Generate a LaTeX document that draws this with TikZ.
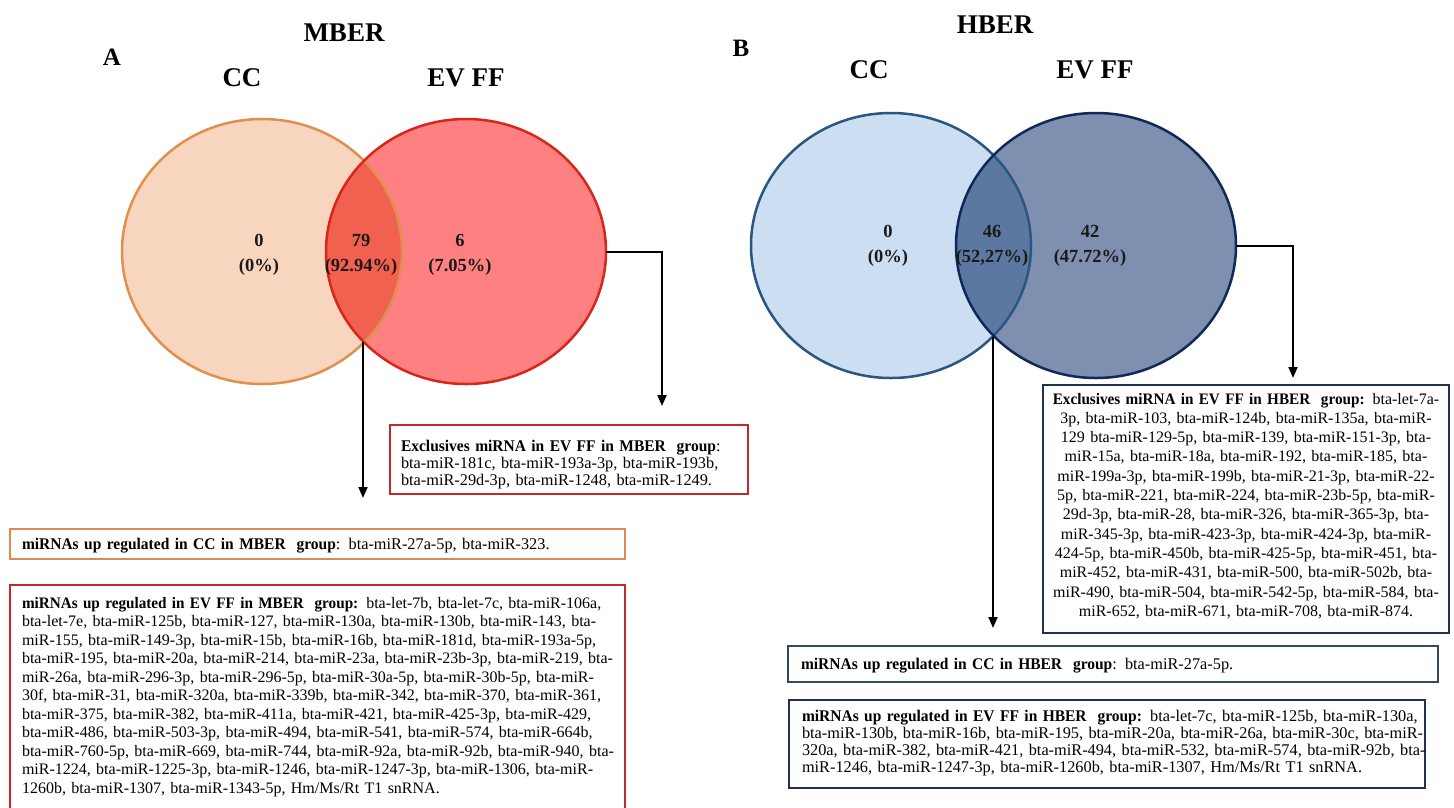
\documentclass[tikz,border=0pt]{standalone}
\usepackage{fontspec}
\setmainfont{Liberation Serif}
\newfontfamily\hdfont{Liberation Serif}[FakeStretch=0.95]
\usetikzlibrary{shapes.geometric,arrows.meta}
\definecolor{ccAfill}{HTML}{F8D5BE}
\definecolor{ccAline}{HTML}{E0904E}
\definecolor{evAfill}{HTML}{FF8080}
\definecolor{evAline}{HTML}{D9261C}
\definecolor{lensA}{HTML}{F2604F}
\definecolor{ccBfill}{HTML}{CCDFF2}
\definecolor{ccBline}{HTML}{2A5780}
\definecolor{evBfill}{HTML}{7F8FB0}
\definecolor{evBline}{HTML}{0F2A5A}
\definecolor{lensB}{HTML}{5D78A0}
\definecolor{redbox}{HTML}{C0282C}
\definecolor{orangebox}{HTML}{DC8A55}
\definecolor{navybox}{HTML}{1F3150}
\definecolor{slatebox}{HTML}{2F4A63}
\definecolor{numcol}{HTML}{1A1A1A}
\newcommand\JL[1]{\hbox to\hsize{#1}}
\newcommand\NL[1]{\hbox{#1}}
\newcommand\CL[1]{\hbox to\hsize{\hss#1\hss}}
\newcommand\HD[1]{{\hdfont\bfseries #1}}
\begin{document}
\begin{tikzpicture}[x=1pt,y=-1pt,
  every node/.style={inner sep=0pt, outer sep=0pt},
  title/.style={font=\fontsize{27}{30}\selectfont\bfseries},
  panel/.style={font=\fontsize{25}{28}\selectfont\bfseries},
  num/.style={font=\fontsize{18.5}{25}\selectfont\bfseries, text=numcol, align=center},
  vennset/.style={ellipse, minimum width=280pt, minimum height=265pt, line width=2.5pt},
  listbox/.style={draw, line width=2.8pt, fill=white, anchor=north west},
  txt/.style={anchor=base west, font=\fontsize{16.3}{18.5}\selectfont},
  conn/.style={draw=black, line width=2pt, -{Triangle[length=11pt,width=9pt]}}
]
\path[use as bounding box, clip] (0,0) rectangle (1454,807);
\fill[white] (0,0) rectangle (1454,807);

% ---------- Panel A ----------
\node[title] (mber) at (344,33) {MBER};
\node[panel] (pA) at (112,57) {A};
\node[title] (ccAt) at (242,78) {CC};
\node[title] (evAt) at (466,78) {EV FF};

\fill[ccAfill] (262,251.5) ellipse [x radius=140, y radius=132.5];
\fill[evAfill] (466,251.5) ellipse [x radius=140, y radius=132.5];
\begin{scope}
  \clip (262,251.5) ellipse [x radius=140, y radius=132.5];
  \fill[lensA] (466,251.5) ellipse [x radius=140, y radius=132.5];
\end{scope}
\node[vennset, draw=ccAline] (ccA) at (262,251.5) {};
\node[vennset, draw=evAline] (evA) at (466,251.5) {};

\node[num] (nA0) at (259,254.5) {0\\(0\%)};
\node[num] (nA1) at (361,254.5) {79\\(92.94\%)};
\node[num] (nA2) at (460,254.5) {6\\(7.05\%)};

\coordinate (lensAb) at (363,342);
\coordinate (tipA1) at (662,406);
\coordinate (tipA2) at (363,498);

\node[listbox, draw=redbox, minimum width=358pt, minimum height=69pt] (exA) at (390,425) {};
\node[txt, font=\fontsize{16.3}{17}\selectfont, text width=340pt] (exAt) at (401,451) {\vtop{%
\NL{\HD{Exclusives miRNA in EV FF in MBER\ \ group}: }%
\NL{bta-miR-181c, bta-miR-193a-3p, bta-miR-193b,}%
\NL{bta-miR-29d-3p, bta-miR-1248, bta-miR-1249.}}};

\node[listbox, draw=orangebox, minimum width=615pt, minimum height=30pt] (upccA) at (10,529) {};
\node[txt, text width=590pt] (upccAt) at (22,549) {\vtop{%
\NL{\HD{miRNAs up regulated in CC in MBER\ \ group}: bta-miR-27a-5p, bta-miR-323.}}};

\node[listbox, draw=redbox, minimum width=615pt, minimum height=235pt] (upevA) at (10,585) {};
\node[txt, font=\fontsize{16}{18.5}\selectfont, text width=591pt] (upevAt) at (22,608) {\vtop{%
\JL{\HD{miRNAs up regulated in EV FF in MBER\ \ group:} bta-let-7b, bta-let-7c, bta-miR-106a,}%
\JL{bta-let-7e, bta-miR-125b, bta-miR-127, bta-miR-130a, bta-miR-130b, bta-miR-143, bta-}%
\JL{miR-155, bta-miR-149-3p, bta-miR-15b, bta-miR-16b, bta-miR-181d, bta-miR-193a-5p,}%
\JL{bta-miR-195, bta-miR-20a, bta-miR-214, bta-miR-23a, bta-miR-23b-3p, bta-miR-219, bta-}%
\JL{miR-26a, bta-miR-296-3p, bta-miR-296-5p, bta-miR-30a-5p, bta-miR-30b-5p, bta-miR-}%
\JL{30f, bta-miR-31, bta-miR-320a, bta-miR-339b, bta-miR-342, bta-miR-370, bta-miR-361,}%
\JL{bta-miR-375, bta-miR-382, bta-miR-411a, bta-miR-421, bta-miR-425-3p, bta-miR-429,}%
\JL{bta-miR-486, bta-miR-503-3p, bta-miR-494, bta-miR-541, bta-miR-574, bta-miR-664b,}%
\JL{bta-miR-760-5p, bta-miR-669, bta-miR-744, bta-miR-92a, bta-miR-92b, bta-miR-940, bta-}%
\JL{miR-1224, bta-miR-1225-3p, bta-miR-1246, bta-miR-1247-3p, bta-miR-1306, bta-miR-}%
\NL{1260b, bta-miR-1307, bta-miR-1343-5p, Hm/Ms/Rt T1 snRNA.}}};

\draw[conn] (evA.east) -| (tipA1);
\draw[conn] (lensAb) -- (tipA2);

% ---------- Panel B ----------
\node[title] (hber) at (995,25) {HBER};
\node[panel] (pB) at (741,48) {B};
\node[title] (ccBt) at (869,70) {CC};
\node[title] (evBt) at (1095,70) {EV FF};

\fill[ccBfill] (891,245.5) ellipse [x radius=140, y radius=132.5];
\fill[evBfill] (1096,245.5) ellipse [x radius=140, y radius=132.5];
\begin{scope}
  \clip (891,245.5) ellipse [x radius=140, y radius=132.5];
  \fill[lensB] (1096,245.5) ellipse [x radius=140, y radius=132.5];
\end{scope}
\node[vennset, draw=ccBline] (ccB) at (891,245.5) {};
\node[vennset, draw=evBline] (evB) at (1096,245.5) {};

\node[num] (nB0) at (888,246) {0\\(0\%)};
\node[num] (nB1) at (992,246) {46\\(52,27\%)};
\node[num] (nB2) at (1090,246) {42\\(47.72\%)};

\coordinate (lensBb) at (993,337);
\coordinate (tipB1) at (1293,378);
\coordinate (tipB2) at (993,628);

\node[listbox, draw=navybox, minimum width=406pt, minimum height=248pt] (exB) at (1043,385) {};
\node[txt, font=\fontsize{16}{19.3}\selectfont, text width=396pt] (exBt) at (1048,404) {\vtop{%
\CL{\HD{Exclusives miRNA in EV FF in HBER\ \ group:} bta-let-7a-}%
\CL{3p, bta-miR-103, bta-miR-124b, bta-miR-135a, bta-miR-}%
\CL{129 bta-miR-129-5p, bta-miR-139, bta-miR-151-3p, bta-}%
\CL{miR-15a, bta-miR-18a, bta-miR-192, bta-miR-185, bta-}%
\CL{miR-199a-3p, bta-miR-199b, bta-miR-21-3p, bta-miR-22-}%
\CL{5p, bta-miR-221, bta-miR-224, bta-miR-23b-5p, bta-miR-}%
\CL{29d-3p, bta-miR-28, bta-miR-326, bta-miR-365-3p, bta-}%
\CL{miR-345-3p, bta-miR-423-3p, bta-miR-424-3p, bta-miR-}%
\CL{424-5p, bta-miR-450b, bta-miR-425-5p, bta-miR-451, bta-}%
\CL{miR-452, bta-miR-431, bta-miR-500, bta-miR-502b, bta-}%
\CL{miR-490, bta-miR-504, bta-miR-542-5p, bta-miR-584, bta-}%
\CL{miR-652, bta-miR-671, bta-miR-708, bta-miR-874.}}};

\node[listbox, draw=slatebox, minimum width=650pt, minimum height=36pt] (upccB) at (788,646) {};
\node[txt, text width=620pt] (upccBt) at (801,669) {\vtop{%
\NL{\HD{miRNAs up regulated in CC in HBER\ \ group}: bta-miR-27a-5p.}}};

\node[listbox, draw=navybox, minimum width=636pt, minimum height=88pt] (upevB) at (789,700) {};
\node[txt, font=\fontsize{16.3}{17}\selectfont, text width=613pt] (upevBt) at (802,721) {\vtop{%
\JL{\HD{miRNAs up regulated in EV FF in HBER\ \ group:} bta-let-7c, bta-miR-125b, bta-miR-130a,}%
\JL{bta-miR-130b, bta-miR-16b, bta-miR-195, bta-miR-20a, bta-miR-26a, bta-miR-30c, bta-miR-}%
\JL{320a, bta-miR-382, bta-miR-421, bta-miR-494, bta-miR-532, bta-miR-574, bta-miR-92b, bta-}%
\NL{miR-1246, bta-miR-1247-3p, bta-miR-1260b, bta-miR-1307, Hm/Ms/Rt T1 snRNA.}}};

\draw[conn] (evB.east) -| (tipB1);
\draw[conn] (lensBb) -- (tipB2);
\end{tikzpicture}
\end{document}
